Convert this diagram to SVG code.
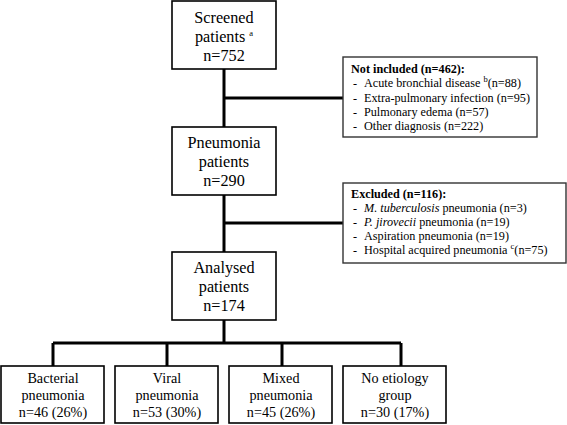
<svg xmlns="http://www.w3.org/2000/svg" width="567" height="425" viewBox="0 0 567 425">
<style>
.bg{fill:#fff}
.box{fill:#fff;stroke:#000;stroke-width:1.6}
.sbox{fill:#fff;stroke:#333;stroke-width:1.4}
text{font-family:'Liberation Serif','Times New Roman',Tinos,'DejaVu Serif',serif;fill:#000}
.big{font-size:16.2px;text-anchor:middle}
.mid{font-size:14.2px;text-anchor:middle}
.sm{font-size:12.2px}
.b{font-weight:bold}
.i{font-style:italic}
.sup{font-size:8.5px}
.con{fill:none;stroke:#000;stroke-width:3}
</style>
<rect class="bg" x="0" y="0" width="567" height="425"/>
<g id="connectors">
<path class="con" d="M224 69V127M224 195V252M224 320V343M224 98H343M224 223H343M53 343H401M53 343V366M167 343V366M282 343V366M401 343V366"/>
</g>
<g id="screened">
<rect class="box" x="172" y="1" width="104" height="68"/>
<text class="big" x="224" y="23">Screened</text>
<text class="big" x="224" y="42">patients <tspan class="sup" dy="-6">a</tspan></text>
<text class="big" x="224" y="61">n=752</text>
</g>
<g id="not-included">
<rect class="sbox" x="343" y="57" width="194" height="80"/>
<text class="sm b" x="351" y="73">Not included (n=462):</text>
<text class="sm" x="353" y="87">-</text><text class="sm" x="364" y="87">Acute bronchial disease <tspan class="sup" dy="-5">b</tspan><tspan dy="5">(n=88)</tspan></text>
<text class="sm" x="353" y="102">-</text><text class="sm" x="364" y="102">Extra-pulmonary infection (n=95)</text>
<text class="sm" x="353" y="116">-</text><text class="sm" x="364" y="116">Pulmonary edema (n=57)</text>
<text class="sm" x="353" y="130">-</text><text class="sm" x="364" y="130">Other diagnosis (n=222)</text>
</g>
<g id="pneumonia">
<rect class="box" x="172" y="127" width="104" height="68"/>
<text class="big" x="224" y="148">Pneumonia</text>
<text class="big" x="224" y="167">patients</text>
<text class="big" x="224" y="186">n=290</text>
</g>
<g id="excluded">
<rect class="sbox" x="343" y="183" width="223" height="80"/>
<text class="sm b" x="351" y="198">Excluded (n=116):</text>
<text class="sm" x="353" y="212">-</text><text class="sm" x="364" y="212"><tspan class="i">M. tuberculosis</tspan> pneumonia (n=3)</text>
<text class="sm" x="353" y="226">-</text><text class="sm" x="364" y="226"><tspan class="i">P. jirovecii</tspan> pneumonia (n=19)</text>
<text class="sm" x="353" y="240">-</text><text class="sm" x="364" y="240">Aspiration pneumonia (n=19)</text>
<text class="sm" x="353" y="254">-</text><text class="sm" x="364" y="254">Hospital acquired pneumonia <tspan class="sup" dy="-5">c</tspan><tspan dy="5">(n=75)</tspan></text>
</g>
<g id="analysed">
<rect class="box" x="172" y="252" width="104" height="68"/>
<text class="big" x="224" y="273">Analysed</text>
<text class="big" x="224" y="292">patients</text>
<text class="big" x="224" y="311">n=174</text>
</g>
<g id="bacterial">
<rect class="box" x="1" y="366" width="103" height="57"/>
<text class="mid" x="53" y="383">Bacterial</text>
<text class="mid" x="53" y="400">pneumonia</text>
<text class="mid" x="53" y="417">n=46 (26%)</text>
</g>
<g id="viral">
<rect class="box" x="115" y="366" width="103" height="57"/>
<text class="mid" x="167" y="383">Viral</text>
<text class="mid" x="167" y="400">pneumonia</text>
<text class="mid" x="167" y="417">n=53 (30%)</text>
</g>
<g id="mixed">
<rect class="box" x="229" y="366" width="103" height="57"/>
<text class="mid" x="281" y="383">Mixed</text>
<text class="mid" x="281" y="400">pneumonia</text>
<text class="mid" x="281" y="417">n=45 (26%)</text>
</g>
<g id="no-etiology">
<rect class="box" x="343" y="366" width="103" height="57"/>
<text class="mid" x="395" y="383">No etiology</text>
<text class="mid" x="395" y="400">group</text>
<text class="mid" x="395" y="417">n=30 (17%)</text>
</g>
</svg>
